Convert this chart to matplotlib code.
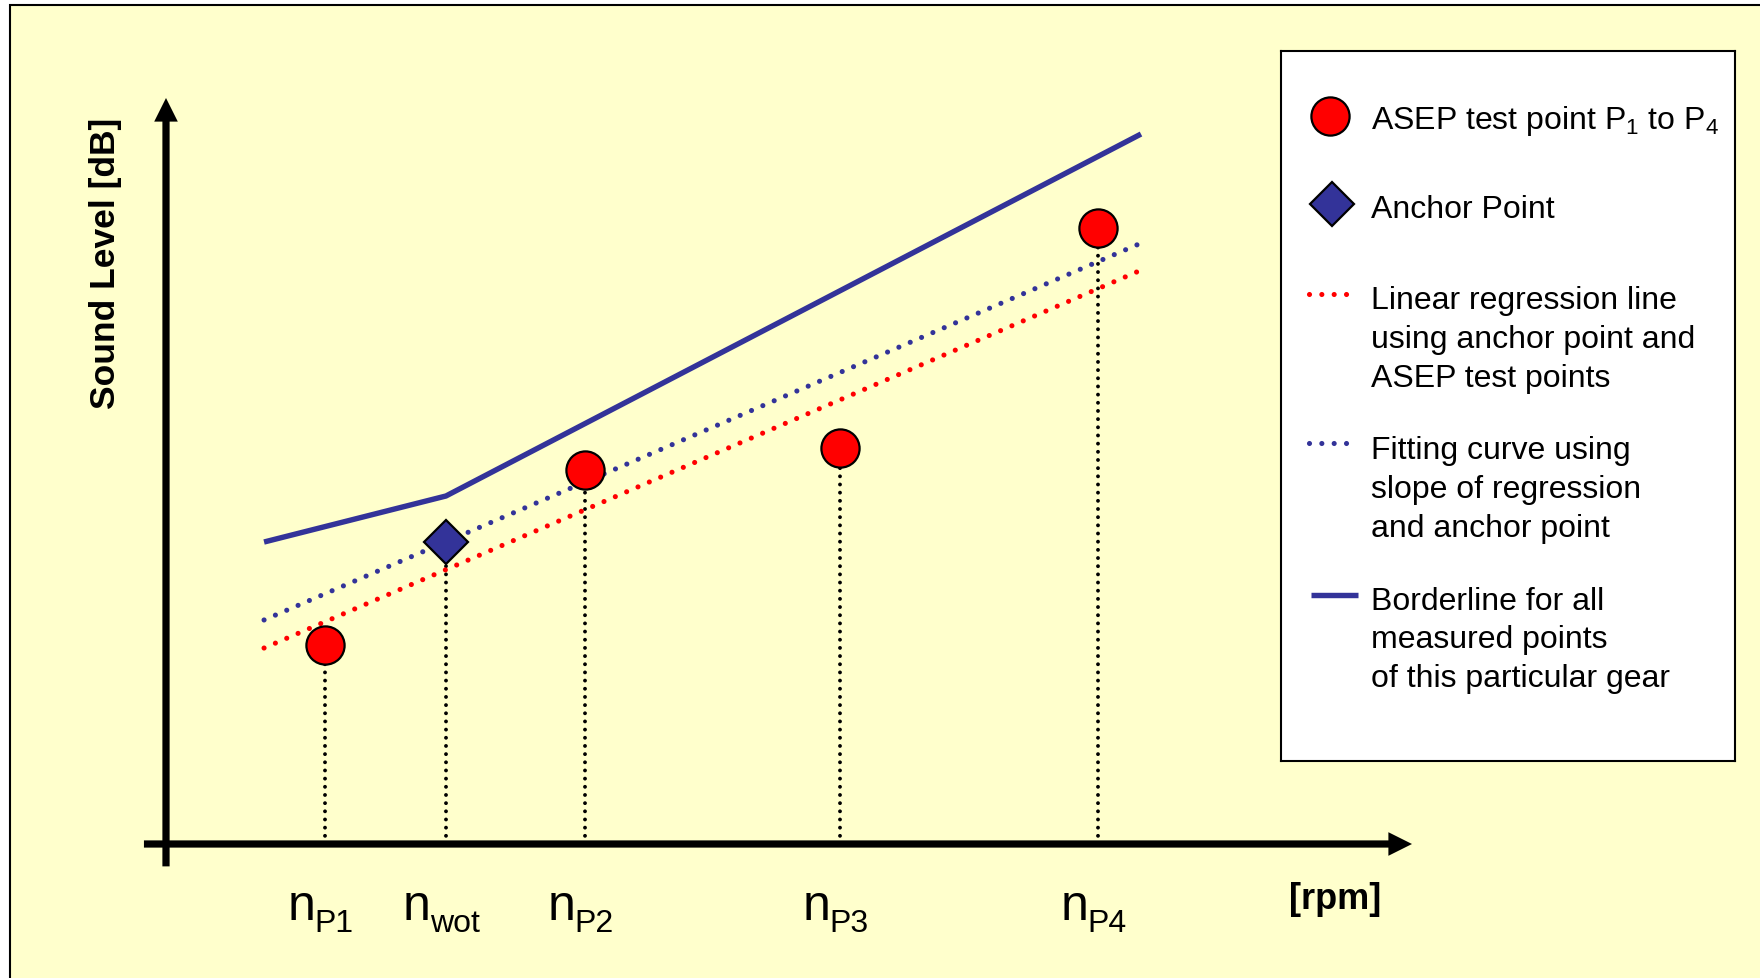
import matplotlib
matplotlib.use("Agg")
import matplotlib.pyplot as plt
from matplotlib.patches import Rectangle

plt.rcParams['font.family'] = ['Liberation Sans', 'DejaVu Sans']
plt.rcParams['mathtext.default'] = 'regular'

# ---------------- data (arbitrary units: rpm axis 0-100, level axis 0-100) -------------
test_rpm = [12.76, 33.63, 54.09, 74.80]
test_level = [26.68, 50.13, 53.08, 82.57]
anchor_rpm = [22.47]
anchor_level = [40.48]
border_rpm = [7.87, 22.47, 78.25]
border_level = [40.48, 46.65, 95.17]
regr_rpm = [7.87, 78.09]
regr_level = [26.27, 76.81]
fit_rpm = [7.87, 78.09]
fit_level = [30.03, 80.43]
tick_rpm = [12.76, 22.47, 33.63, 54.09, 74.80]
tick_subs = ['P1', 'wot', 'P2', 'P3', 'P4']
legend_lines = [
    ['ASEP test point P$_{1}$ to P$_{4}$'],
    ['Anchor Point'],
    ['Linear regression line', 'using anchor point and', 'ASEP test points'],
    ['Fitting curve using', 'slope of regression', 'and anchor point'],
    ['Borderline for all', 'measured points', 'of this particular gear'],
]
y_label = 'Sound Level [dB]'
x_label = '[rpm]'

# ---------------- styles ----------------
BLUE = '#333399'
RED = '#FF0000'
BG = '#FFFFCC'
W, H = 1760, 979
DOT = (0, (0.001, 2.4))

circle_style = dict(ls='none', marker='o', ms=27.5, mfc=RED, mec='black', mew=1.6)
diamond_style = dict(ls='none', marker='D', ms=22.5, mfc=BLUE, mec='black', mew=1.6)
regr_style = dict(color=RED, lw=3.7, ls=DOT, dash_capstyle='round')
fit_style = dict(color=BLUE, lw=3.7, ls=DOT, dash_capstyle='round')
border_style = dict(color=BLUE, lw=3.9, solid_capstyle='butt', solid_joinstyle='miter')
drop_style = dict(color='black', lw=2.8, ls=(0, (0.001, 2.1)), dash_capstyle='round')

fig = plt.figure(figsize=(W / 100, H / 100), dpi=100)
fig.patch.set_facecolor('white')
fig.patches.append(Rectangle((10 / W, -0.05), 1.2, (H - 6) / H + 0.05,
                             transform=fig.transFigure, facecolor=BG,
                             edgecolor='black', lw=1.5, zorder=-5))

# main axes: rpm 0..100 spans px 166..1412, level 0..100 spans px 845..99
ax = fig.add_axes([0, 0, 1, 1])
ax.set_axis_off()
ax.patch.set_alpha(0)
sx, ox = 12.46, 166
sy, oy = 7.46, 845
ax.set_xlim((0 - ox) / sx, (W - ox) / sx)
ax.set_ylim((oy - H) / sy, oy / sy)

# axis arrows
arrow = dict(arrowstyle='simple,head_length=17,head_width=17,tail_width=5.2',
             mutation_scale=1, fc='black', ec='none', lw=0, shrinkA=0, shrinkB=0)
ax.annotate('', xy=(0, 100), xytext=(0, -3.0), arrowprops=arrow, annotation_clip=False)
ax.annotate('', xy=(100, 0), xytext=(-1.77, 0), arrowprops=arrow, annotation_clip=False)

# drop lines
for x, y in zip(test_rpm + anchor_rpm, test_level + anchor_level):
    ax.plot([x, x], [0, y], zorder=2, **drop_style)

ax.plot(border_rpm, border_level, zorder=3, **border_style)
ax.plot(regr_rpm, regr_level, zorder=3, **regr_style)
ax.plot(fit_rpm, fit_level, zorder=3, **fit_style)
ax.plot(test_rpm, test_level, zorder=5, **circle_style)
ax.plot(anchor_rpm, anchor_level, zorder=5, **diamond_style)

# tick labels n_Px
renderer = fig.canvas.get_renderer()
for x, sub in zip(tick_rpm, tick_subs):
    t1 = ax.annotate('n', xy=(x, 0), xytext=(0, -75), textcoords='offset pixels',
                     fontsize=36, ha='left', va='baseline')
    t2 = ax.annotate(sub, xy=(x, 0), xytext=(0, -86.7), textcoords='offset pixels',
                     fontsize=23, ha='left', va='baseline')
    w1 = t1.get_window_extent(renderer).width
    w2 = t2.get_window_extent(renderer).width
    start = -(w1 + w2) / 2 - 4
    t1.xyann = (start, -75)
    t2.xyann = (start + w1 - 1, -86.7)

# axis titles
fig.text(105.5 / W, 1 - 263.5 / H, y_label, rotation=90, ha='center', va='center',
         fontsize=25.5, fontweight='bold')
fig.text(1335 / W, 1 - 899.5 / H, x_label, ha='center', va='center',
         fontsize=26, fontweight='bold')

# ---------------- legend box ----------------
lx0, ly0, lx1, ly1 = 1281, 52, 1735, 762
lax = fig.add_axes([lx0 / W, (H - ly1) / H, (lx1 - lx0) / W, (ly1 - ly0) / H])
lax.set_xlim(0, lx1 - lx0)
lax.set_ylim(ly1 - ly0, 0)
lax.set_xticks([])
lax.set_yticks([])
lax.set_facecolor('white')
for s in lax.spines.values():
    s.set_linewidth(1.5)
    s.set_color('black')

lax.plot([49], [64.5], **circle_style)
lax.plot([50.7], [153.2], **diamond_style)
lax.plot([28, 69], [242.8, 242.8], **regr_style)
lax.plot([28, 69], [392.4, 392.4], **fit_style)
lax.plot([30, 77], [544, 544], **border_style)

baselines = [[76.7], [166], [257, 295.8, 334.6], [407.5, 446.3, 485.1], [557.6, 596.4, 635.2]]
for lines, ys in zip(legend_lines, baselines):
    for txt, yb in zip(lines, ys):
        lax.text(90, yb, txt, fontsize=23, ha='left', va='baseline')

fig.savefig('out.png', dpi=100)
